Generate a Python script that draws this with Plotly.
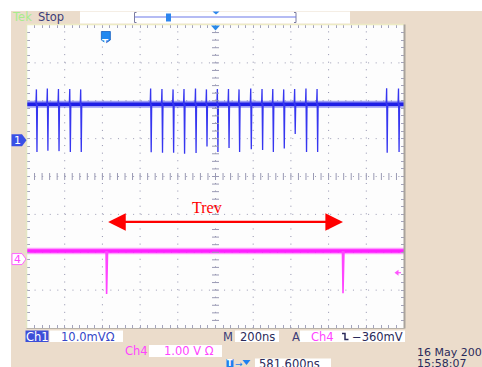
import plotly.graph_objects as go

time_per_div_ns = 200
horiz_position_ns = 581.6          # trigger -> screen centre
ch1_mV_per_div = 10.0
ch4_V_per_div = 1.0
ch1_offset_div = 0.96              # ch1 ground marker position
ch4_offset_div = -2.18             # ch4 ground marker position
trigger_level_V = -0.36

ch1_baseline_mV = 9.5
ch1_spike_t_ns = [-367, -309, -250, -190, -132,
                  239, 299, 358, 416, 477, 535, 593, 652, 708, 770, 830,
                  887, 945, 1003, 1063, 1122,
                  1491, 1554]
ch1_spike_high_mV = [13.4, 13.6, 13.5, 13.5, 13.4,
                     13.6, 13.5, 13.4, 13.5, 13.6, 13.4, 13.5, 13.5, 13.4, 13.6, 13.5,
                     13.5, 13.4, 13.5, 13.6, 13.5,
                     13.7, 13.6]
ch1_spike_low_mV = [-3.1, -2.8, -2.9, -3.1, -3.1,
                    -3.2, -3.3, -3.3, -3.6, -3.4, -1.7, -3.1, -2.1, -3.1, -2.4, -2.6,
                    -3.1, -2.2, 1.6, -3.1, -3.1,
                    -3.3, -3.1]

ch4_baseline_V = 0.21
ch4_dip_t_ns = [4, 1258]
ch4_dip_low_V = [-0.92, -0.90]

trev_label = "Trev"
ch1_scale_text = "10.0mVΩ"
ch4_scale_text = "1.00 V Ω"
timebase_text = "200ns"
trig_text = "−360mV"
position_text = "581.600ns"
date_text = "16 May 200"
time_text = "15:58:07"

# ---------------- screen geometry ----------------
W, H = 482, 367
PL, PR, PT, PB = 27, 404, 25, 328
x_left = horiz_position_ns - 5 * time_per_div_ns
x_right = horiz_position_ns + 5 * time_per_div_ns
BLUE = "#1E1EE6"
MAG = "#FF1EFF"
FONT = "DejaVu Sans"
FS = 11.5


def px(x):
    return x / W


def py(y):
    return 1 - y / H


def ch1_div(v):
    return ch1_offset_div + v / ch1_mV_per_div


def ch4_div(v):
    return ch4_offset_div + v / ch4_V_per_div


fig = go.Figure()

# ---- channel 1 ----
b1 = ch1_div(ch1_baseline_mV)
fig.add_trace(go.Scatter(x=[x_left, x_right], y=[b1, b1], mode="lines",
                         line=dict(color="rgba(40,40,235,0.45)", width=7), hoverinfo="skip"))
fig.add_trace(go.Scatter(x=[x_left, x_right], y=[b1, b1], mode="lines",
                         line=dict(color=BLUE, width=3.5), hoverinfo="skip"))
sx, sy = [], []
for t, hi, lo in zip(ch1_spike_t_ns, ch1_spike_high_mV, ch1_spike_low_mV):
    sx += [t - 4, t - 1.5, t + 1.5, t + 4, None]
    sy += [b1, ch1_div(hi), ch1_div(lo), b1, None]
fig.add_trace(go.Scatter(x=sx, y=sy, mode="lines", line=dict(color="#3636F0", width=1.3),
                         hoverinfo="skip"))

# ---- channel 4 ----
b4 = ch4_div(ch4_baseline_V)
fig.add_trace(go.Scatter(x=[x_left, x_right], y=[b4, b4], mode="lines",
                         line=dict(color="rgba(255,40,255,0.45)", width=6.5), hoverinfo="skip"))
fig.add_trace(go.Scatter(x=[x_left, x_right], y=[b4, b4], mode="lines",
                         line=dict(color=MAG, width=3.5), hoverinfo="skip"))
dx, dy = [], []
for t, lo in zip(ch4_dip_t_ns, ch4_dip_low_V):
    dx += [t - 3, t, t + 5, None]
    dy += [b4, ch4_div(lo), b4, None]
fig.add_trace(go.Scatter(x=dx, y=dy, mode="lines", line=dict(color="#FF44FF", width=1.6),
                         hoverinfo="skip"))

# ---- centre-line tick marks ----
minor_t = [x_left + k * time_per_div_ns / 5 for k in range(1, 50)]
minor_v = [-4 + k * 0.2 for k in range(1, 40)]
fig.add_trace(go.Scatter(x=minor_t, y=[0] * len(minor_t), mode="markers",
                         marker=dict(symbol="line-ns", size=5, line=dict(color="#9A9AB4", width=1)),
                         hoverinfo="skip"))
fig.add_trace(go.Scatter(x=[horiz_position_ns] * len(minor_v), y=minor_v, mode="markers",
                         marker=dict(symbol="line-ew", size=5, line=dict(color="#9A9AB4", width=1)),
                         hoverinfo="skip"))

shapes = []
ann = []


def rect(x0, y0, x1, y1, fill, lc=None, lw=0, layer="below"):
    shapes.append(dict(type="rect", xref="paper", yref="paper", x0=px(x0), x1=px(x1),
                       y0=py(y1), y1=py(y0), fillcolor=fill,
                       line=dict(color=lc or fill, width=lw), layer=layer))


def pline(x0, y0, x1, y1, color, w=1, layer="above"):
    shapes.append(dict(type="line", xref="paper", yref="paper", x0=px(x0), x1=px(x1),
                       y0=py(y0), y1=py(y1), line=dict(color=color, width=w), layer=layer))


def ppath(pts, fill=None, lc=None, lw=0, close=True, layer="above"):
    d = "M " + " L ".join(f"{px(a):.5f},{py(b):.5f}" for a, b in pts) + (" Z" if close else "")
    shapes.append(dict(type="path", xref="paper", yref="paper", path=d,
                       fillcolor=fill if fill else "rgba(0,0,0,0)",
                       line=dict(color=lc or "rgba(0,0,0,0)", width=lw), layer=layer))


def text(x, y, s, color, size=FS, xanchor="left", family=FONT):
    ann.append(dict(x=px(x), y=py(y), xref="paper", yref="paper", text=s, showarrow=False,
                    xanchor=xanchor, yanchor="middle", borderpad=0,
                    font=dict(family=family, size=size, color=color)))


# background panels
rect(11, 11, W + 2, H + 2, "#EBDCCB")
rect(PL, PT, PR, PB, "#FDFDFD")

# dotted graticule
dot = "1px,6.58px"
for k in range(1, 10):
    t = x_left + k * time_per_div_ns
    shapes.append(dict(type="line", xref="x", yref="y", x0=t, x1=t, y0=-4, y1=4,
                       line=dict(color="#9090AC", width=1, dash=dot), layer="below"))
for k in range(-3, 4):
    shapes.append(dict(type="line", xref="x", yref="y", x0=x_left, x1=x_right, y0=k, y1=k,
                       line=dict(color="#9C9CB4", width=1, dash=dot), layer="below"))

# frame
pline(PL - 0.5, PT - 0.5, PR, PT - 0.5, "#EDEBC4", 1.5)
pline(PL - 0.5, PT - 0.5, PL - 0.5, PB, "#E4E6C4", 1.5)
pline(PR + 0.5, PT - 0.5, PR + 0.5, PB + 0.5, "#A9A39C", 2)
pline(PL - 0.5, PB + 0.5, PR + 0.5, PB + 0.5, "#B8B2AA", 1)

# Trev arrow
arrow_y_div = -1.2
ann.append(dict(x=ch4_dip_t_ns[1], y=arrow_y_div, ax=ch4_dip_t_ns[0], ay=arrow_y_div,
                xref="x", yref="y", axref="x", ayref="y", text="", showarrow=True,
                arrowhead=2, startarrowhead=2, arrowside="end+start",
                arrowsize=1.6, startarrowsize=1.6, arrowwidth=2.2, arrowcolor="#FF0000"))
ann.append(dict(x=536, y=-0.83, xref="x", yref="y", text=trev_label, showarrow=False,
                font=dict(family="Liberation Serif", size=16, color="#FF0000")))

# trigger (T) marker at t = 0 and centre marker at top
shapes.append(dict(type="path", xref="x", yref="paper", xsizemode="pixel", xanchor=0,
                   path=f"M -4.5,{py(31.5)} L 4.5,{py(31.5)} L 4.5,{py(40)} L 0,{py(43)} L -4.5,{py(40)} Z",
                   fillcolor="#2088F0", line=dict(color="#1560C0", width=0.8), layer="above"))
ann.append(dict(x=0, y=py(36.5), xref="x", yref="paper", text="<b>T</b>", showarrow=False,
                font=dict(family=FONT, size=9, color="white")))
shapes.append(dict(type="path", xref="x", yref="paper", xsizemode="pixel", xanchor=horiz_position_ns,
                   path=f"M -4.5,{py(25.5)} L 4.5,{py(25.5)} L 0,{py(30.5)} Z",
                   fillcolor="#2888E8", line=dict(width=0), layer="above"))

# channel ground markers
shapes.append(dict(type="path", xref="paper", yref="y", ysizemode="pixel", yanchor=ch1_offset_div,
                   path=f"M {px(11.5)},6 L {px(22)},6 L {px(26.5)},0 L {px(22)},-6 L {px(11.5)},-6 Z",
                   fillcolor="#3A50E6", line=dict(width=0), layer="above"))
ann.append(dict(x=px(17), y=ch1_offset_div, xref="paper", yref="y", text="1", showarrow=False,
                xanchor="center", yanchor="middle", borderpad=0,
                font=dict(family=FONT, size=11, color="white")))
shapes.append(dict(type="path", xref="paper", yref="y", ysizemode="pixel", yanchor=ch4_offset_div,
                   path=f"M {px(12)},5.5 L {px(22)},5.5 L {px(26)},0 L {px(22)},-5.5 L {px(12)},-5.5 Z",
                   fillcolor="white", line=dict(color="#FF66FF", width=1), layer="above"))
ann.append(dict(x=px(17.5), y=ch4_offset_div, xref="paper", yref="y", text="4", showarrow=False,
                xanchor="center", yanchor="middle", borderpad=0,
                font=dict(family=FONT, size=11, color="#FF44FF")))
# trigger level marker
trig_div = ch4_div(trigger_level_V)
shapes.append(dict(type="path", xref="paper", yref="y", ysizemode="pixel", yanchor=trig_div,
                   path=f"M {px(394.5)},0 L {px(398.5)},3 L {px(398.5)},-3 Z",
                   fillcolor="#FF55FF", line=dict(width=0), layer="above"))
shapes.append(dict(type="path", xref="paper", yref="y", ysizemode="pixel", yanchor=trig_div,
                   path=f"M {px(398)},0 L {px(401)},0",
                   line=dict(color="#FF55FF", width=1.2), layer="above"))

# ---- top status bar ----
text(11, 17, "Tek", "#A8EC8C", FS)
text(36.5, 17, "Stop", "#3C3C7A", FS)
rect(80, 11.5, 350, 23.5, "#FFFFFF", layer="above")
ppath([(136.5, 12.5), (134.5, 12.5), (134.5, 22.5), (136.5, 22.5)], lc="#7C7CA0", lw=1, close=False)
ppath([(294, 12.5), (296, 12.5), (296, 22.5), (294, 22.5)], lc="#7C7CA0", lw=1, close=False)
pline(135, 17, 296, 17, "#6C78E8", 1.2)
rect(166, 13.5, 171, 21.5, "#2E86EE", layer="above")
ppath([(212.5, 11.5), (219.5, 11.5), (216, 14.5)], fill="#2A86EE")

# ---- bottom readouts ----
rect(25.5, 330.5, 48.5, 342, "#3C4ED8", layer="above")
text(37, 336.5, "Ch1", "white", FS, "center")
rect(49.5, 330.5, 123, 342, "#FFFFFF", layer="above")
text(60, 336.5, ch1_scale_text, "#3546C8", FS)
text(228, 336.5, "M", "#3C3C78", FS, "center")
rect(235, 330.5, 279, 342, "#FFFFFF", layer="above")
text(257, 336.5, timebase_text, "#2A2A5A", FS, "center")
text(295.5, 336.5, "A", "#3C3C78", FS, "center")
rect(300, 330.5, 405, 342, "#FFFFFF", layer="above")
text(310, 336.5, "Ch4", "#FF44FF", FS)
ppath([(342, 333.5), (345, 333.5), (345, 339.5), (348.5, 339.5)], lc="#2A2A5A", lw=1.5, close=False)
text(351, 336.5, trig_text, "#2A2A5A", FS)

text(136, 351, "Ch4", "#FF44FF", FS, "center")
rect(149, 345, 222, 357, "#FFFFFF", layer="above")
text(163, 351, ch4_scale_text, "#FF44FF", FS)

rect(226.5, 359, 233.5, 368, "#1E80F0", layer="above")
text(230, 363.5, "<b>T</b>", "white", 8, "center")
text(234, 363.5, "→", "#1E80F0", 9)
ppath([(242.5, 360), (250.5, 360), (246.5, 365)], fill="#1E80F0")
rect(255, 358.5, 331, 368, "#FFFFFF", layer="above")
text(258, 364, position_text, "#2A2A5A", FS)

text(416, 352, date_text, "#2A2A5A", 11)
text(416, 363.5, time_text, "#2A2A5A", 11)

axis_common = dict(showgrid=False, zeroline=False, showticklabels=False, ticks="inside",
                   ticklen=3, tickcolor="#A4A4BC", tickwidth=1, mirror="ticks", showline=False,
                   fixedrange=True)
fig.update_layout(
    width=W, height=H, autosize=False, margin=dict(l=0, r=0, t=0, b=0, pad=0),
    paper_bgcolor="white", plot_bgcolor="rgba(0,0,0,0)", showlegend=False,
    xaxis=dict(domain=[px(PL), px(PR)], range=[x_left, x_right],
               tick0=x_left, dtick=time_per_div_ns / 5, **axis_common),
    yaxis=dict(domain=[py(PB), py(PT)], range=[-4, 4], tick0=-4, dtick=0.2, **axis_common),
    shapes=shapes, annotations=ann,
)

fig.write_html("out.html", config={"displayModeBar": False, "staticPlot": True},
               post_script="document.body.style.margin='0';")
